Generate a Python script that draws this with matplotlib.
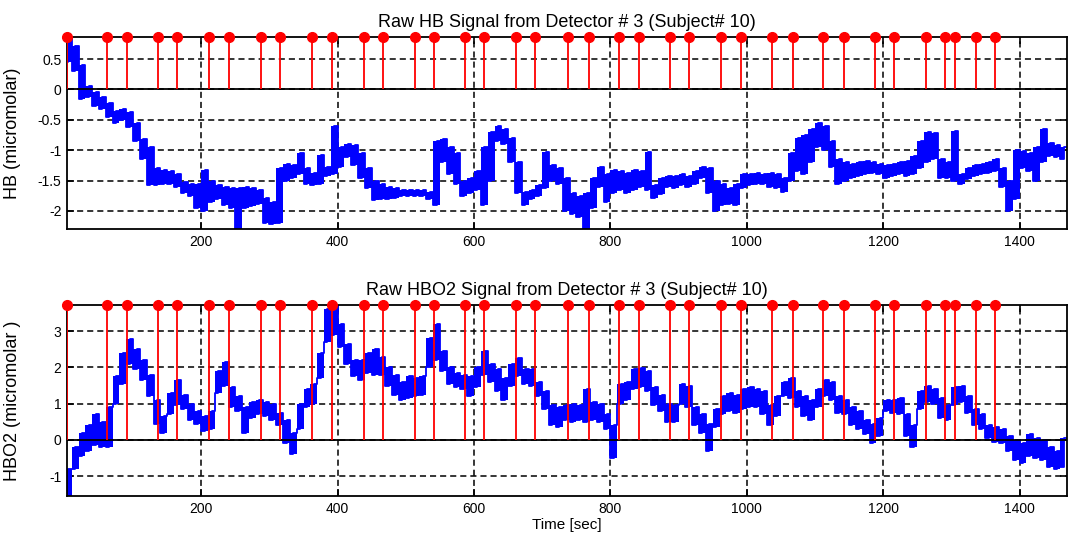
import numpy as np
import matplotlib
matplotlib.use("Agg")
import matplotlib.pyplot as plt

plt.rcParams['font.family'] = ['Liberation Sans', 'DejaVu Sans']

# Signal envelopes: lowest / highest value in each 10 s window (0-10, 10-20, ... 1460-1470 s)
window_sec = 10
hb_lo = [0.45, 0.30, -0.15, -0.12, -0.28, -0.32, -0.45, -0.55, -0.50, -0.62,
         -0.85, -1.15, -1.58, -1.58, -1.55, -1.55, -1.60, -1.70, -1.75, -1.95,
         -2.00, -1.85, -1.80, -1.90, -1.95, -2.30, -1.95, -1.92, -1.88, -2.20,
         -2.22, -2.20, -1.50, -1.45, -1.40, -1.55, -1.58, -1.55, -1.42, -1.40,
         -1.28, -1.12, -1.25, -1.45, -1.62, -1.82, -1.80, -1.80, -1.78, -1.75,
         -1.75, -1.75, -1.76, -1.80, -1.90, -1.20, -1.40, -1.55, -1.75, -1.70,
         -1.65, -1.90, -1.50, -0.85, -0.90, -1.20, -1.70, -1.90, -1.80, -1.75,
         -1.62, -1.50, -1.55, -2.00, -2.05, -2.10, -2.30, -1.95, -1.60, -1.85,
         -1.70, -1.65, -1.70, -1.65, -1.60, -1.65, -1.78, -1.72, -1.60, -1.62,
         -1.58, -1.60, -1.55, -1.45, -1.70, -2.00, -1.90, -1.88, -1.90, -1.62,
         -1.58, -1.55, -1.55, -1.60, -1.62, -1.68, -1.50, -1.35, -1.40, -1.20,
         -0.95, -1.00, -1.28, -1.55, -1.50, -1.45, -1.42, -1.40, -1.38, -1.40,
         -1.45, -1.42, -1.40, -1.42, -1.40, -1.30, -1.20, -1.15, -1.45, -1.45,
         -1.50, -1.55, -1.48, -1.42, -1.40, -1.38, -1.35, -1.60, -2.00, -1.80,
         -1.30, -1.35, -1.50, -1.20, -1.10, -1.12, -1.15]
hb_hi = [0.86, 0.72, 0.40, 0.05, -0.05, -0.12, -0.22, -0.35, -0.33, -0.38,
         -0.55, -0.82, -0.95, -1.30, -1.32, -1.35, -1.40, -1.52, -1.55, -1.55,
         -1.33, -1.50, -1.58, -1.60, -1.62, -1.62, -1.60, -1.62, -1.65, -1.78,
         -1.85, -1.30, -1.22, -1.25, -1.05, -1.30, -1.38, -1.08, -1.28, -0.60,
         -0.95, -0.90, -0.92, -1.05, -1.30, -1.50, -1.55, -1.60, -1.62, -1.65,
         -1.65, -1.66, -1.65, -1.68, -0.85, -0.82, -0.95, -1.05, -1.50, -1.45,
         -1.35, -0.95, -0.70, -0.60, -0.65, -0.80, -1.20, -1.68, -1.65, -1.58,
         -1.03, -1.25, -1.30, -1.45, -1.70, -1.75, -1.70, -1.45, -1.28, -1.40,
         -1.33, -1.35, -1.38, -1.32, -1.35, -1.03, -1.58, -1.45, -1.42, -1.42,
         -1.40, -1.42, -1.35, -1.28, -1.30, -1.50, -1.55, -1.62, -1.55, -1.40,
         -1.40, -1.38, -1.40, -1.38, -1.40, -1.45, -1.05, -0.80, -0.75, -0.65,
         -0.55, -0.60, -0.85, -1.15, -1.20, -1.22, -1.20, -1.18, -1.20, -1.22,
         -1.25, -1.22, -1.20, -1.18, -1.10, -0.85, -0.70, -0.72, -1.15, -1.20,
         -0.68, -1.40, -1.30, -1.25, -1.22, -1.20, -1.15, -1.30, -1.50, -1.00,
         -1.02, -1.05, -0.95, -0.65, -0.88, -0.92, -0.95]

hbo2_lo = [-1.55, -0.80, -0.45, -0.30, -0.15, -0.20, -0.20, 1.00, 1.55, 2.10,
           1.95, 1.65, 1.20, 0.45, 0.20, 0.70, 0.95, 0.85, 0.55, 0.45,
           0.25, 0.30, 1.30, 1.50, 0.90, 0.80, 0.20, 0.60, 0.70, 0.65,
           0.55, 0.40, -0.10, -0.40, 0.30, 0.90, 1.00, 1.70, 2.70, 2.90,
           2.55, 2.10, 1.75, 1.65, 1.85, 1.80, 1.80, 1.50, 1.25, 1.10,
           1.15, 1.20, 1.25, 2.00, 2.20, 1.90, 1.55, 1.45, 1.40, 1.20,
           1.45, 1.80, 1.60, 1.35, 1.10, 1.50, 1.75, 1.55, 1.50, 1.20,
           0.85, 0.40, 0.35, 0.55, 0.50, 0.55, 0.50, 0.55, 0.50, 0.30,
           -0.50, 1.00, 1.10, 1.40, 1.45, 1.35, 0.95, 0.80, 0.50, 0.50,
           1.00, 0.90, 0.40, 0.20, -0.30, 0.35, 0.70, 0.80, 0.75, 0.85,
           0.90, 0.90, 0.70, 0.40, 0.65, 1.20, 1.15, 0.90, 0.65, 0.55,
           0.90, 1.20, 1.10, 0.75, 0.70, 0.40, 0.30, 0.15, -0.10, 0.10,
           0.80, 0.75, 0.70, 0.10, -0.20, 0.85, 1.05, 1.00, 0.60, 0.55,
           0.95, 1.05, 0.75, 0.40, 0.30, 0.05, -0.05, -0.10, -0.30, -0.55,
           -0.65, -0.45, -0.50, -0.55, -0.75, -0.80, -0.75]
hbo2_hi = [-0.80, -0.20, 0.20, 0.40, 0.70, 0.50, 0.90, 1.75, 2.40, 2.78,
           2.50, 2.20, 1.80, 1.10, 0.65, 1.30, 1.65, 1.25, 1.00, 0.80,
           0.65, 0.80, 1.90, 2.15, 1.45, 1.20, 0.90, 1.05, 1.10, 1.05,
           1.00, 0.75, 0.55, 0.20, 1.00, 1.40, 1.55, 2.40, 3.60, 3.72,
           3.20, 2.65, 2.20, 2.20, 2.40, 2.50, 2.30, 2.00, 1.80, 1.60,
           1.75, 1.70, 1.75, 2.80, 3.20, 2.45, 2.00, 1.85, 1.80, 1.75,
           2.00, 2.45, 2.10, 1.95, 1.70, 2.10, 2.25, 1.95, 1.95, 1.60,
           1.35, 0.95, 0.90, 0.95, 1.00, 0.95, 1.40, 1.05, 1.00, 0.70,
           0.40, 1.55, 1.60, 1.95, 1.98, 1.90, 1.45, 1.25, 1.00, 0.95,
           1.55, 1.50, 0.90, 0.70, 0.45, 0.85, 1.20, 1.30, 1.25, 1.40,
           1.45, 1.40, 1.35, 0.95, 1.20, 1.60, 1.70, 1.35, 1.20, 1.10,
           1.40, 1.65, 1.60, 1.20, 1.10, 0.90, 0.80, 0.55, 0.45, 0.60,
           1.10, 1.10, 1.15, 0.70, 0.40, 1.35, 1.50, 1.40, 1.15, 0.95,
           1.45, 1.50, 1.20, 0.85, 0.70, 0.40, 0.35, 0.30, 0.10, 0.00,
           -0.10, 0.15, 0.05, 0.00, -0.20, -0.30, 0.05]

# Stimulus onsets (sec)
onsets = [3, 62, 91, 137, 165, 212, 240, 288, 316, 362, 391, 438, 466, 513,
          541, 587, 615, 661, 690, 738, 768, 812, 842, 887, 915, 962, 992,
          1037, 1068, 1112, 1143, 1188, 1216, 1263, 1291, 1306, 1336, 1364]

t_start, t_end = 3, 1469
xticks = [200, 400, 600, 800, 1000, 1200, 1400]
hb_yticks = [-2, -1.5, -1, -0.5, 0, 0.5]
hbo2_yticks = [-1, 0, 1, 2, 3]

detector = 3
subject = 10

SIGNAL_BLUE = '#0000ff'


def trace(lo, hi):
    """Min and max of every window, in time order, as one series."""
    lo = np.asarray(lo)
    hi = np.asarray(hi)
    starts = np.arange(len(lo)) * window_sec
    t = np.empty(2 * len(lo))
    y = np.empty(2 * len(lo))
    t[0::2] = starts + 0.25 * window_sec
    t[1::2] = starts + 0.75 * window_sec
    y[0::2] = lo
    y[1::2] = hi
    return t, y


fig = plt.figure(figsize=(10.68, 5.38), dpi=100)
ax1 = fig.add_axes([0.0627, 0.574, 0.936, 0.357])
ax2 = fig.add_axes([0.0627, 0.078, 0.936, 0.355])


def panel(ax, lo, hi, title, ylabel, yticks, ylabels):
    lo = np.asarray(lo)
    hi = np.asarray(hi)
    centres = (np.arange(len(lo)) + 0.5) * window_sec
    t, y = trace(lo, hi)
    ymin, ymax = float(lo.min()), float(hi.max())
    ax.set_axisbelow(True)
    ax.grid(True, color='black', linestyle=(0, (4.0, 2.6)), linewidth=1.1)
    # raw trace: band between window minima and maxima, joined by the stepped series
    ax.fill_between(centres, lo, hi, step='mid', color=SIGNAL_BLUE,
                    linewidth=0, zorder=2)
    ax.plot(t, y, color=SIGNAL_BLUE, linewidth=1.3, drawstyle='steps-mid',
            zorder=2.1)
    ax.axhline(0, color='black', linewidth=1.3, zorder=2.5)
    ml, sl, bl = ax.stem(onsets, [ymax] * len(onsets), linefmt='r-',
                         markerfmt='ro', basefmt=' ')
    sl.set_linewidth(1.3)
    sl.set_zorder(3)
    ml.set_markersize(7)
    ml.set_clip_on(False)
    ml.set_zorder(4)
    ax.set_xlim(t_start, t_end)
    ax.set_ylim(ymin, ymax)
    ax.set_xticks(xticks)
    ax.set_xticklabels([str(v) for v in xticks])
    ax.set_yticks(yticks)
    ax.set_yticklabels(ylabels)
    ax.tick_params(direction='in', length=5, width=1.2, labelsize=10,
                   top=True, right=True, pad=4)
    for s in ax.spines.values():
        s.set_linewidth(1.3)
    ax.set_title(title, fontsize=13, pad=7)
    ax.set_ylabel(ylabel, fontsize=13, labelpad=3)


panel(ax1, hb_lo, hb_hi,
      f'Raw HB Signal from Detector # {detector} (Subject# {subject})',
      'HB (micromolar)', hb_yticks, ['-2', '-1.5', '-1', '-0.5', '0', '0.5'])
panel(ax2, hbo2_lo, hbo2_hi,
      f'Raw HBO2 Signal from Detector # {detector} (Subject# {subject})',
      'HBO2 (micromolar )', hbo2_yticks, ['-1', '0', '1', '2', '3'])
ax2.set_xlabel('Time [sec]', fontsize=11, labelpad=2)
ax1.yaxis.set_label_coords(-0.046, 0.5)
ax2.yaxis.set_label_coords(-0.046, 0.5)

fig.savefig('out.png', dpi=100)
